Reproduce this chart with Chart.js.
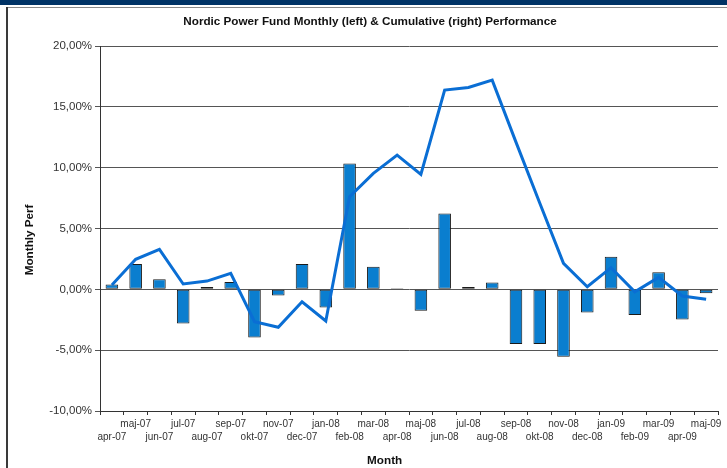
<!DOCTYPE html>
<html>
<head>
<meta charset="utf-8">
<script src="https://cdn.jsdelivr.net/npm/chart.js@4"></script>
<style>
  html, body { margin: 0; padding: 0; background: #fff; }
  #wrap { position: relative; width: 727px; height: 468px; overflow: hidden; }
  #band { position: absolute; left: 0; top: 0; width: 727px; height: 5px; background: #003366; }
  #topline { position: absolute; left: 6px; top: 7px; width: 721px; height: 1px; background: #8a8a8a; }
  #leftline { position: absolute; left: 6px; top: 7px; width: 2px; height: 461px; background: #3a3a3a; }
  canvas { position: absolute; left: 0; top: 0; }
</style>
</head>
<body>
<div id="wrap">
  <div id="band"></div>
  <div id="topline"></div>
  <div id="leftline"></div>
  <canvas id="c" width="727" height="468"></canvas>
</div>
<script>
const categories = ['apr-07','maj-07','jun-07','jul-07','aug-07','sep-07','okt-07','nov-07','dec-07',
  'jan-08','feb-08','mar-08','apr-08','maj-08','jun-08','jul-08','aug-08','sep-08','okt-08','nov-08','dec-08',
  'jan-09','feb-09','mar-09','apr-09','maj-09'];
const monthlyPerf = [0.4, 2.08, 0.82, -2.8, 0.19, 0.6, -3.95, -0.5, 2.08, -1.5, 10.35, 1.86, 0.08, -1.76, 6.24, 0.19, 0.57, -4.5, -4.5, -5.54, -1.9, 2.68, -2.1, 1.4, -2.47, -0.33];
const cumulativePerf = [0.35, 2.47, 3.29, 0.44, 0.68, 1.31, -2.66, -3.12, -1.02, -2.6, 7.61, 9.53, 11.04, 9.45, 16.38, 16.6, 17.2, 12.1, 7.1, 2.14, 0.21, 1.78, -0.2, 0.98, -0.55, -0.82];
const yTicks = [-10, -5, 0, 5, 10, 15, 20];

const fontFam = '"Liberation Sans", Arial, sans-serif';

new Chart(document.getElementById('c'), {
  data: {
    labels: categories,
    datasets: [
      {
        type: 'line',
        label: 'Cumulative',
        data: cumulativePerf,
        borderColor: '#0a6ed4',
        borderWidth: 3,
        pointRadius: 0,
        tension: 0,
        fill: false,
        order: 0
      },
      {
        type: 'bar',
        label: 'Monthly',
        data: monthlyPerf,
        backgroundColor: '#0a7ecf',
        borderColor: '#1a1a1a',
        borderWidth: 1,
        borderSkipped: false,
        categoryPercentage: 1.0,
        barPercentage: 0.53,
        order: 1
      }
    ]
  },
  options: {
    responsive: false,
    animation: false,
    layout: { padding: { left: 22, right: 9, top: 0, bottom: 0 } },
    plugins: {
      legend: { display: false },
      tooltip: { enabled: false },
      title: {
        display: true,
        text: 'Nordic Power Fund Monthly (left) & Cumulative (right) Performance',
        color: '#111',
        font: { family: fontFam, size: 11.7, weight: 'bold', lineHeight: 1.2 },
        padding: { top: 15, bottom: 17 }
      }
    },
    scales: {
      x: {
        offset: true,
        grid: { display: true, drawOnChartArea: false, drawTicks: true, tickLength: 4, color: '#333', offset: true },
        border: { display: true, color: '#333', width: 1 },
        ticks: {
          autoSkip: false,
          maxRotation: 0,
          minRotation: 0,
          padding: 3,
          color: '#333',
          font: { family: fontFam, size: 10, lineHeight: 1.3 },
          callback: function(v, i) {
            const l = categories[i];
            return i % 2 === 0 ? ['', l] : [l, ''];
          }
        },
        title: {
          display: true,
          text: 'Month               ',
          color: '#111',
          font: { family: fontFam, size: 11.7, weight: 'bold' },
          padding: { top: 8, bottom: 0 }
        },
        afterFit: function(s) { s.height = 57; }
      },
      y: {
        min: -10,
        max: 20,
        afterBuildTicks: function(s) { s.ticks = yTicks.map(v => ({ value: v })); },
        grid: { color: '#555', lineWidth: 1, drawTicks: true, tickLength: 5 },
        border: { display: true, color: '#333', width: 1 },
        ticks: {
          color: '#333',
          padding: 3,
          font: { family: fontFam, size: 11.5 },
          callback: function(v) { return v.toFixed(2).replace('.', ',') + '%'; }
        },
        title: {
          display: true,
          text: 'Monthly Perf       ',
          color: '#111',
          font: { family: fontFam, size: 11.7, weight: 'bold' },
          padding: { top: 1, bottom: 0 }
        },
        afterFit: function(s) { s.width = 78; }
      }
    }
  }
});
</script>
</body>
</html>
